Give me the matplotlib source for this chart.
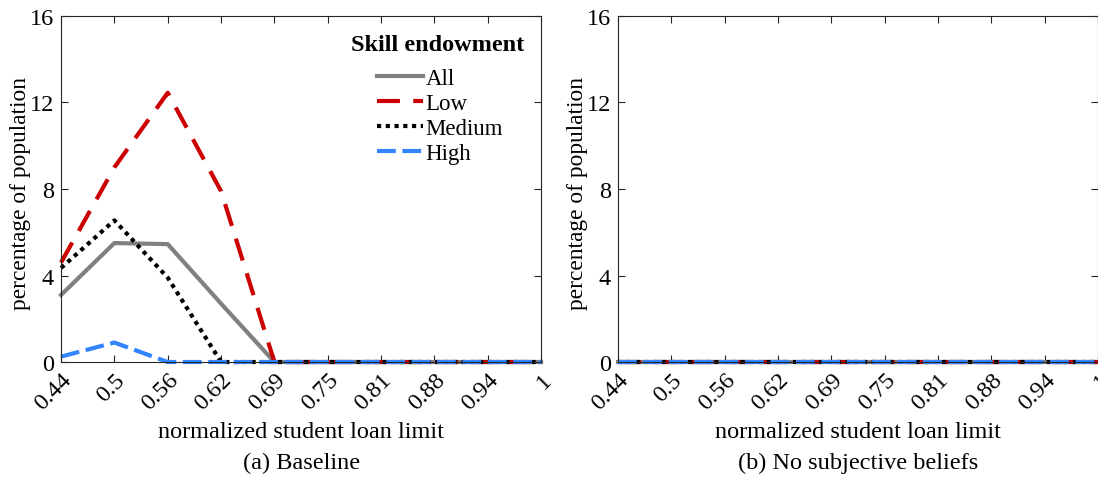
import numpy as np
import matplotlib
matplotlib.use("Agg")
import matplotlib.pyplot as plt

plt.rcParams['font.family'] = ['Liberation Serif', 'DejaVu Serif']
plt.rcParams['mathtext.fontset'] = 'stix'

# loan limit grid (k/16), labels as printed
loan_limit = [7 / 16, 8 / 16, 9 / 16, 10 / 16, 11 / 16, 12 / 16, 13 / 16, 14 / 16, 15 / 16, 16 / 16]
tick_labels = ['0.44', '0.5', '0.56', '0.62', '0.69', '0.75', '0.81', '0.88', '0.94', '1']

# (a) baseline, percentage of population
base_all = [3.1, 5.5, 5.45, 2.7, 0, 0, 0, 0, 0, 0]
base_low = [4.6, 9.0, 12.45, 7.9, 0, 0, 0, 0, 0, 0]
base_medium = [4.35, 6.55, 3.9, 0, 0, 0, 0, 0, 0, 0]
base_high = [0.25, 0.9, 0, 0, 0, 0, 0, 0, 0, 0]

# (b) no subjective beliefs
nsb_all = [0, 0, 0, 0, 0, 0, 0, 0, 0, 0]
nsb_low = [0, 0, 0, 0, 0, 0, 0, 0, 0, 0]
nsb_medium = [0, 0, 0, 0, 0, 0, 0, 0, 0, 0]
nsb_high = [0, 0, 0, 0, 0, 0, 0, 0, 0, 0]

series_names = ['All', 'Low', 'Medium', 'High']
styles = [
    dict(color='#808080', lw=3.0, ls='-'),
    dict(color='#cc0000', lw=3.0, dashes=(5.5, 3.2)),
    dict(color='black', lw=3.0, dashes=(1, 1.1)),
    dict(color='#3385ff', lw=3.0, dashes=(4.5, 1.6)),
]

fig = plt.figure(figsize=(10.98, 4.81), dpi=100)
ax1 = fig.add_axes([0.0556, 0.2453, 0.4372, 0.7194])
ax2 = fig.add_axes([0.5628, 0.2453, 0.4372, 0.7194])


def draw_panel(ax, data, caption, legend=False):
    for vals, name, st in zip(data, series_names, styles):
        ax.plot(loan_limit, vals, label=name, clip_on=False, **st)
    ax.set_xlim(loan_limit[0], loan_limit[-1])
    ax.set_ylim(0, 16)
    ax.set_yticks([0, 4, 8, 12, 16])
    ax.set_xticks(loan_limit)
    ax.set_xticklabels(tick_labels, rotation=45, ha='right', va='top', rotation_mode='anchor')
    ax.tick_params(direction='in', top=True, right=True, length=5, width=0.8,
                   labelsize=17.5, colors='#262626', labelcolor='black', pad=5)
    for sp in ax.spines.values():
        sp.set_linewidth(0.8)
        sp.set_color('#262626')
    ax.set_ylabel('percentage of population', fontsize=16.8)
    ax.yaxis.set_label_coords(-0.062, 0.49)
    ax.set_xlabel('normalized student loan limit', fontsize=17.5, va='center')
    ax.xaxis.set_label_coords(0.5, -0.202)
    ax.text(0.5, -0.29, caption, transform=ax.transAxes, ha='center', va='center', fontsize=17.5)
    if legend:
        ax.text(0.785, 0.919, 'Skill endowment', transform=ax.transAxes, ha='center',
                va='center', fontsize=17.5, fontweight='bold')
        ax.legend(loc='upper left', frameon=False, fontsize=16.5, handlelength=2.0,
                  handletextpad=0.12, labelspacing=0.18, borderpad=0, borderaxespad=0,
                  bbox_to_anchor=(0.658, 0.85))


draw_panel(ax1, [base_all, base_low, base_medium, base_high], '(a) Baseline', legend=True)
draw_panel(ax2, [nsb_all, nsb_low, nsb_medium, nsb_high], '(b) No subjective beliefs')

fig.savefig('out.png', dpi=100)
